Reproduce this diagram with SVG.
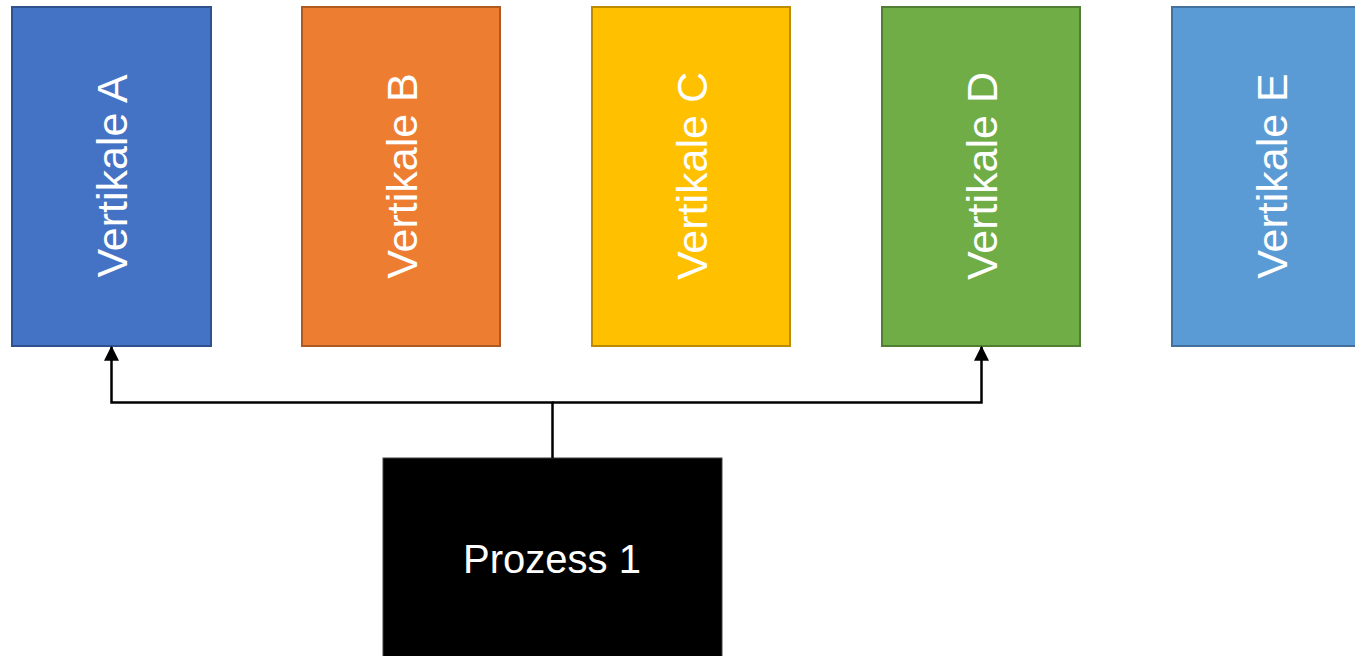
<svg xmlns="http://www.w3.org/2000/svg" width="1355" height="656" viewBox="0 0 1355 656">
<style>
.v{stroke-width:2}
.lbl{font-family:"Liberation Sans",Arial,sans-serif;fill:#fff;text-anchor:middle}
.vt{font-size:43px}
.pt{font-size:40px}
.conn{fill:none;stroke:#000;stroke-width:2.5}
</style>
<defs>
<marker id="arr" markerWidth="6" markerHeight="6" refX="5.5" refY="3" orient="auto" markerUnits="strokeWidth" viewBox="0 0 6 6">
<path d="M0,0 L6,3 L0,6 Z" fill="#000"/>
</marker>
</defs>
<rect width="1355" height="656" fill="#fff"/>
<g id="vertikale-a">
<rect class="v" x="12" y="7" width="199" height="339" fill="#4472C4" stroke="#2F528F"/>
<text class="lbl vt" transform="translate(127,176) rotate(-90)">Vertikale A</text>
</g>
<g id="vertikale-b">
<rect class="v" x="302" y="7" width="198" height="339" fill="#ED7D31" stroke="#AE5A21"/>
<text class="lbl vt" transform="translate(417,176) rotate(-90)">Vertikale B</text>
</g>
<g id="vertikale-c">
<rect class="v" x="592" y="7" width="198" height="339" fill="#FFC000" stroke="#BC8C00"/>
<text class="lbl vt" transform="translate(707,176) rotate(-90)">Vertikale C</text>
</g>
<g id="vertikale-d">
<rect class="v" x="882" y="7" width="198" height="339" fill="#70AD47" stroke="#507E32"/>
<text class="lbl vt" transform="translate(997,176) rotate(-90)">Vertikale D</text>
</g>
<g id="vertikale-e">
<rect class="v" x="1172" y="7" width="198" height="339" fill="#5B9BD5" stroke="#41719C"/>
<text class="lbl vt" transform="translate(1287,176) rotate(-90)">Vertikale E</text>
</g>
<g id="prozess-1">
<rect x="383" y="458" width="339" height="210" fill="#000" stroke="#404040" stroke-width="1"/>
<text class="lbl pt" x="552" y="573">Prozess 1</text>
</g>
<g id="connectors">
<path class="conn" d="M552.5,458 V402.5 H111.5 V347" marker-end="url(#arr)"/>
<path class="conn" d="M552.5,402.5 H981.5 V347" marker-end="url(#arr)"/>
</g>
</svg>
